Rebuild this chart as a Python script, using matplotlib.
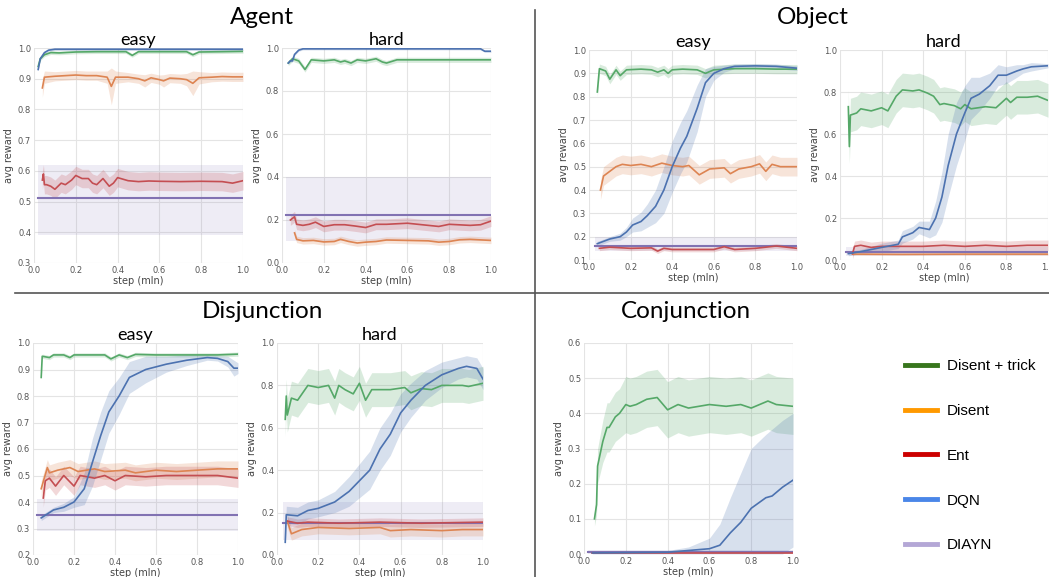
import numpy as np
import matplotlib.pyplot as plt
from matplotlib.lines import Line2D

plt.rcParams['font.family'] = ['DejaVu Sans']

# line colours (seaborn deep) and legend colours
C_GRN = '#55a868'
C_ORG = '#dd8452'
C_RED = '#c44e52'
C_BLU = '#4c72b0'
C_PUR = '#8172b2'
legend_labels = ['Disent + trick', 'Disent', 'Ent', 'DQN', 'DIAYN']
legend_colors = ['#38761d', '#ff9900', '#cc0000', '#4a86e8', '#b4a7d6']

# ---------------- Agent / easy
ae_blu_x = [0.02, 0.03, 0.05, 0.07, 0.1, 0.3, 0.6, 1.0]
ae_blu = [0.93, 0.965, 0.985, 0.993, 0.996, 0.996, 0.996, 0.996]
ae_grn_x = [0.02, 0.03, 0.05, 0.08, 0.12, 0.2, 0.3, 0.44, 0.47, 0.5, 0.6, 0.73, 0.76, 0.79, 0.9, 1.0]
ae_grn = [0.94, 0.965, 0.978, 0.985, 0.984, 0.987, 0.988, 0.988, 0.976, 0.988, 0.988, 0.988, 0.978, 0.987, 0.988, 0.989]
ae_org_x = [0.04, 0.05, 0.1, 0.15, 0.2, 0.25, 0.3, 0.35, 0.37, 0.39, 0.45, 0.5, 0.53, 0.56, 0.6,
            0.62, 0.65, 0.7, 0.73, 0.76, 0.79, 0.85, 0.9, 0.95, 1.0]
ae_org = [0.87, 0.905, 0.908, 0.91, 0.912, 0.91, 0.91, 0.905, 0.875, 0.905, 0.905, 0.9, 0.893, 0.903, 0.897,
          0.893, 0.902, 0.9, 0.897, 0.885, 0.903, 0.905, 0.907, 0.906, 0.906]
ae_org_w = [0.03, 0.02, 0.015, 0.015, 0.015, 0.015, 0.015, 0.02, 0.06, 0.02, 0.015, 0.015, 0.02, 0.015, 0.015,
            0.02, 0.015, 0.015, 0.02, 0.04, 0.02, 0.015, 0.015, 0.015, 0.015]
ae_red_x = [0.04, 0.045, 0.05, 0.06, 0.08, 0.1, 0.13, 0.15, 0.18, 0.2, 0.23, 0.26, 0.28, 0.3, 0.33, 0.36,
            0.38, 0.4, 0.45, 0.5, 0.55, 0.6, 0.7, 0.8, 0.9, 0.95, 1.0]
ae_red = [0.57, 0.59, 0.555, 0.555, 0.55, 0.54, 0.56, 0.555, 0.57, 0.585, 0.575, 0.575, 0.56, 0.555, 0.575, 0.55,
          0.56, 0.578, 0.568, 0.565, 0.567, 0.566, 0.565, 0.566, 0.565, 0.56, 0.568]
ae_red_w = 0.03
ae_pur = 0.512
ae_pur_band = (0.39, 0.62)

# ---------------- Agent / hard
ah_blu_x = [0.03, 0.04, 0.05, 0.06, 0.08, 0.1, 0.3, 0.6, 0.95, 0.97, 1.0]
ah_blu = [0.93, 0.94, 0.94, 0.97, 0.99, 0.996, 0.996, 0.996, 0.996, 0.985, 0.985]
ah_grn_x = [0.03, 0.05, 0.08, 0.11, 0.14, 0.2, 0.25, 0.28, 0.3, 0.33, 0.36, 0.4, 0.45, 0.48, 0.5,
            0.55, 0.6, 0.7, 0.8, 0.9, 1.0]
ah_grn = [0.93, 0.95, 0.94, 0.9, 0.945, 0.94, 0.945, 0.935, 0.94, 0.93, 0.945, 0.94, 0.95, 0.935, 0.93,
          0.945, 0.945, 0.945, 0.945, 0.945, 0.945]
ah_red_x = [0.04, 0.06, 0.07, 0.1, 0.13, 0.16, 0.2, 0.25, 0.3, 0.35, 0.4, 0.45, 0.5, 0.6, 0.7, 0.75,
            0.8, 0.9, 0.95, 1.0]
ah_red = [0.2, 0.215, 0.18, 0.175, 0.18, 0.19, 0.17, 0.178, 0.178, 0.172, 0.165, 0.18, 0.18, 0.185, 0.175, 0.17,
          0.18, 0.175, 0.178, 0.195]
ah_org_x = [0.06, 0.07, 0.1, 0.15, 0.2, 0.25, 0.28, 0.32, 0.36, 0.4, 0.45, 0.5, 0.6, 0.7, 0.75, 0.8,
            0.85, 0.9, 1.0]
ah_org = [0.14, 0.11, 0.103, 0.105, 0.098, 0.1, 0.11, 0.1, 0.093, 0.097, 0.1, 0.107, 0.105, 0.103, 0.097, 0.1,
          0.108, 0.11, 0.105]
ah_pur = 0.225
ah_pur_band = (0.1, 0.4)

# ---------------- Object / easy
oe_grn_x = [0.04, 0.05, 0.08, 0.1, 0.13, 0.15, 0.18, 0.25, 0.3, 0.33, 0.36, 0.38, 0.4, 0.45, 0.52,
            0.56, 0.6, 0.7, 0.8, 0.9, 1.0]
oe_grn = [0.82, 0.92, 0.91, 0.875, 0.915, 0.89, 0.915, 0.918, 0.915, 0.905, 0.915, 0.9, 0.915, 0.918, 0.915,
          0.9, 0.915, 0.92, 0.92, 0.918, 0.918]
oe_org_x = [0.055, 0.07, 0.1, 0.13, 0.16, 0.2, 0.25, 0.3, 0.35, 0.4, 0.45, 0.48, 0.53, 0.58, 0.65, 0.68,
            0.72, 0.78, 0.82, 0.85, 0.88, 0.92, 1.0]
oe_org = [0.4, 0.46, 0.48, 0.5, 0.51, 0.505, 0.51, 0.5, 0.515, 0.505, 0.5, 0.505, 0.465, 0.49, 0.495, 0.47,
          0.49, 0.5, 0.512, 0.48, 0.51, 0.5, 0.5]
oe_blu_x = [0.04, 0.07, 0.1, 0.15, 0.18, 0.21, 0.25, 0.28, 0.32, 0.36, 0.4, 0.44, 0.47, 0.52, 0.56, 0.6,
            0.65, 0.7, 0.8, 0.9, 1.0]
oe_blu = [0.17, 0.18, 0.19, 0.2, 0.22, 0.25, 0.265, 0.29, 0.33, 0.4, 0.5, 0.58, 0.63, 0.75, 0.86, 0.9,
          0.92, 0.93, 0.932, 0.93, 0.922]
oe_blu_w = [0.01, 0.01, 0.01, 0.015, 0.02, 0.03, 0.04, 0.05, 0.07, 0.1, 0.11, 0.11, 0.11, 0.1, 0.06, 0.03,
            0.015, 0.01, 0.01, 0.01, 0.01]
oe_red_x = [0.05, 0.1, 0.2, 0.3, 0.33, 0.36, 0.4, 0.5, 0.6, 0.65, 0.7, 0.8, 0.85, 0.9, 0.95, 1.0]
oe_red = [0.15, 0.155, 0.15, 0.152, 0.138, 0.15, 0.145, 0.145, 0.145, 0.157, 0.145, 0.15, 0.155, 0.16, 0.155, 0.15]
oe_pur = 0.162
oe_pur_band = (0.14, 0.2)

# ---------------- Object / hard
oh_grn_x = [0.04, 0.045, 0.05, 0.08, 0.1, 0.15, 0.2, 0.23, 0.27, 0.3, 0.35, 0.38, 0.42, 0.45, 0.48, 0.5,
            0.55, 0.58, 0.6, 0.63, 0.7, 0.75, 0.8, 0.82, 0.85, 0.9, 0.95, 1.0]
oh_grn = [0.73, 0.54, 0.69, 0.7, 0.72, 0.71, 0.725, 0.71, 0.78, 0.81, 0.805, 0.81, 0.795, 0.78, 0.74, 0.745,
          0.735, 0.72, 0.74, 0.72, 0.73, 0.725, 0.77, 0.75, 0.775, 0.775, 0.78, 0.76]
oh_blu_x = [0.04, 0.1, 0.15, 0.2, 0.28, 0.3, 0.35, 0.38, 0.43, 0.46, 0.49, 0.52, 0.56, 0.6, 0.63, 0.67,
            0.72, 0.76, 0.8, 0.85, 0.88, 0.92, 1.0]
oh_blu = [0.03, 0.04, 0.05, 0.06, 0.075, 0.11, 0.13, 0.155, 0.145, 0.2, 0.3, 0.45, 0.6, 0.7, 0.77, 0.79,
          0.83, 0.88, 0.88, 0.9, 0.91, 0.92, 0.925]
oh_blu_w = [0.01, 0.01, 0.015, 0.02, 0.02, 0.03, 0.03, 0.03, 0.04, 0.08, 0.12, 0.15, 0.15, 0.13, 0.1, 0.08,
            0.06, 0.05, 0.04, 0.03, 0.02, 0.02, 0.01]
oh_red_x = [0.06, 0.07, 0.1, 0.15, 0.2, 0.3, 0.4, 0.5, 0.6, 0.7, 0.8, 0.9, 1.0]
oh_red = [0.03, 0.065, 0.07, 0.06, 0.065, 0.065, 0.065, 0.07, 0.065, 0.07, 0.065, 0.07, 0.07]
oh_org_x = [0.06, 0.3, 0.6, 1.0]
oh_org = [0.028, 0.027, 0.028, 0.028]
oh_pur = 0.04
oh_pur_band = (0.02, 0.06)

# ---------------- Disjunction / easy
de_grn_x = [0.04, 0.045, 0.08, 0.1, 0.15, 0.18, 0.2, 0.25, 0.3, 0.35, 0.38, 0.42, 0.46, 0.5, 0.6, 0.7,
            0.8, 0.9, 1.0]
de_grn = [0.87, 0.95, 0.945, 0.955, 0.955, 0.945, 0.955, 0.955, 0.955, 0.955, 0.94, 0.955, 0.945, 0.957,
          0.955, 0.955, 0.955, 0.955, 0.958]
de_blu_x = [0.04, 0.06, 0.1, 0.15, 0.2, 0.25, 0.29, 0.33, 0.37, 0.42, 0.47, 0.55, 0.65, 0.75, 0.85, 0.9,
            0.95, 0.98, 1.0]
de_blu = [0.34, 0.35, 0.37, 0.38, 0.4, 0.45, 0.55, 0.65, 0.74, 0.8, 0.87, 0.9, 0.92, 0.935, 0.945, 0.942,
          0.93, 0.905, 0.905]
de_blu_w = [0.01, 0.01, 0.01, 0.015, 0.02, 0.06, 0.09, 0.09, 0.08, 0.07, 0.06, 0.05, 0.03, 0.02, 0.01, 0.01,
            0.02, 0.03, 0.02]
de_org_x = [0.04, 0.07, 0.08, 0.12, 0.18, 0.22, 0.3, 0.35, 0.45, 0.5, 0.6, 0.7, 0.8, 0.9, 1.0]
de_org = [0.45, 0.53, 0.51, 0.52, 0.53, 0.515, 0.525, 0.515, 0.52, 0.51, 0.52, 0.515, 0.52, 0.525, 0.525]
de_red_x = [0.05, 0.06, 0.08, 0.11, 0.15, 0.2, 0.23, 0.3, 0.35, 0.4, 0.45, 0.55, 0.65, 0.8, 0.9, 1.0]
de_red = [0.415, 0.48, 0.49, 0.46, 0.5, 0.46, 0.5, 0.49, 0.5, 0.48, 0.5, 0.495, 0.5, 0.5, 0.5, 0.49]
de_pur = 0.352
de_pur_band = (0.29, 0.41)

# ---------------- Disjunction / hard
dh_grn_x = [0.04, 0.045, 0.05, 0.07, 0.1, 0.15, 0.2, 0.25, 0.28, 0.3, 0.33, 0.37, 0.4, 0.43, 0.46, 0.55,
            0.62, 0.65, 0.7, 0.75, 0.8, 0.9, 0.93, 1.0]
dh_grn = [0.64, 0.75, 0.66, 0.74, 0.73, 0.8, 0.79, 0.8, 0.74, 0.8, 0.78, 0.76, 0.81, 0.73, 0.78, 0.78,
          0.79, 0.765, 0.785, 0.78, 0.8, 0.8, 0.795, 0.81]
dh_blu_x = [0.04, 0.045, 0.1, 0.15, 0.2, 0.28, 0.35, 0.4, 0.45, 0.5, 0.55, 0.6, 0.65, 0.72, 0.8, 0.88,
            0.92, 0.97, 1.0]
dh_blu = [0.06, 0.19, 0.185, 0.21, 0.22, 0.25, 0.3, 0.35, 0.4, 0.5, 0.57, 0.67, 0.73, 0.8, 0.85, 0.88,
          0.89, 0.88, 0.83]
dh_blu_w = [0.02, 0.04, 0.04, 0.04, 0.04, 0.05, 0.07, 0.08, 0.09, 0.1, 0.1, 0.09, 0.08, 0.07, 0.06, 0.05,
            0.05, 0.05, 0.05]
dh_red_x = [0.05, 0.1, 0.15, 0.3, 0.5, 0.7, 1.0]
dh_red = [0.16, 0.15, 0.155, 0.15, 0.155, 0.15, 0.155]
dh_org_x = [0.05, 0.07, 0.12, 0.2, 0.35, 0.5, 0.55, 0.65, 0.8, 0.9, 1.0]
dh_org = [0.16, 0.1, 0.12, 0.13, 0.125, 0.13, 0.115, 0.12, 0.115, 0.12, 0.12]
dh_pur = 0.15
dh_pur_band = (0.07, 0.25)

# ---------------- Conjunction
cj_grn_x = [0.05, 0.06, 0.065, 0.09, 0.11, 0.12, 0.15, 0.17, 0.2, 0.22, 0.25, 0.3, 0.35, 0.4, 0.45, 0.5,
            0.6, 0.68, 0.75, 0.8, 0.88, 0.92, 1.0]
cj_grn = [0.1, 0.14, 0.25, 0.32, 0.36, 0.36, 0.39, 0.4, 0.425, 0.42, 0.425, 0.44, 0.445, 0.41, 0.425, 0.415,
          0.425, 0.42, 0.425, 0.415, 0.435, 0.425, 0.42]
cj_grn_w = [0.02, 0.03, 0.05, 0.06, 0.07, 0.07, 0.07, 0.07, 0.08, 0.08, 0.08, 0.08, 0.08, 0.08, 0.08, 0.08,
            0.08, 0.08, 0.08, 0.08, 0.08, 0.08, 0.08]
cj_blu_x = [0.04, 0.4, 0.5, 0.6, 0.65, 0.7, 0.75, 0.8, 0.87, 0.9, 0.95, 1.0]
cj_blu = [0.003, 0.005, 0.01, 0.015, 0.025, 0.06, 0.09, 0.13, 0.16, 0.165, 0.19, 0.21]
cj_blu_w = [0.003, 0.005, 0.01, 0.03, 0.06, 0.1, 0.14, 0.17, 0.18, 0.19, 0.19, 0.19]
cj_red_x = [0.04, 1.0]
cj_red = [0.003, 0.003]
cj_pur = 0.005
cj_pur_band = (0.0, 0.012)


def draw(ax, x, y, w, color, lw=1.2):
    x = np.asarray(x)
    y = np.asarray(y)
    w = np.asarray(w) * np.ones_like(y)
    ax.fill_between(x, np.clip(y - w, 0, None), y + w, color=color, alpha=0.22, lw=0)
    ax.plot(x, y, color=color, lw=lw)


def draw_flat(ax, level, band, x0=0.02):
    ax.fill_between([x0, 1.0], [band[0]] * 2, [band[1]] * 2, color=C_PUR, alpha=0.13, lw=0)
    ax.plot([x0, 1.0], [level, level], color=C_PUR, lw=1.5)


def style(ax, ylo, yhi, ystep, title):
    ax.set_xlim(0, 1.0)
    ax.set_ylim(ylo, yhi)
    ax.set_xticks(np.arange(0, 1.01, 0.2))
    ax.set_yticks(np.arange(ylo, yhi + 1e-6, ystep))
    ax.xaxis.set_major_formatter(plt.FormatStrFormatter('%.1f'))
    ax.yaxis.set_major_formatter(plt.FormatStrFormatter('%.1f'))
    ax.grid(True, color='#e4e4e4', lw=0.8)
    ax.set_axisbelow(True)
    for s in ax.spines.values():
        s.set_visible(False)
    ax.tick_params(length=0, labelsize=6, labelcolor='#555555', pad=2)
    ax.set_xlabel('step (mln)', fontsize=7, color='#444444', labelpad=1)
    ax.set_ylabel('avg reward', fontsize=7, color='#444444', labelpad=3)
    ax.set_title(title, fontsize=13, family=['Lato', 'DejaVu Sans'], pad=2)


W, H = 1049, 577
fig = plt.figure(figsize=(W / 100, H / 100), dpi=100, facecolor='w')


def add_ax(x0, y0, x1, y1):
    # pixel box -> figure fraction
    return fig.add_axes([x0 / W, 1 - y1 / H, (x1 - x0) / W, (y1 - y0) / H])


# Agent easy
ax = add_ax(34, 48, 243, 263)
draw_flat(ax, ae_pur, ae_pur_band)
draw(ax, ae_red_x, ae_red, ae_red_w, C_RED)
draw(ax, ae_org_x, ae_org, ae_org_w, C_ORG)
draw(ax, ae_grn_x, ae_grn, 0.006, C_GRN)
draw(ax, ae_blu_x, ae_blu, 0.004, C_BLU)
style(ax, 0.3, 1.0, 0.1, 'easy')

# Agent hard
ax = add_ax(282, 48, 491, 263)
draw_flat(ax, ah_pur, ah_pur_band)
draw(ax, ah_red_x, ah_red, 0.025, C_RED)
draw(ax, ah_org_x, ah_org, 0.015, C_ORG)
draw(ax, ah_grn_x, ah_grn, 0.012, C_GRN)
draw(ax, ah_blu_x, ah_blu, 0.005, C_BLU)
style(ax, 0.0, 1.0, 0.2, 'hard')

# Object easy
ax = add_ax(589, 50, 797, 260)
draw_flat(ax, oe_pur, oe_pur_band, 0.03)
draw(ax, oe_red_x, oe_red, 0.01, C_RED)
draw(ax, oe_org_x, oe_org, 0.04, C_ORG)
draw(ax, oe_grn_x, oe_grn, 0.02, C_GRN)
draw(ax, oe_blu_x, oe_blu, oe_blu_w, C_BLU)
style(ax, 0.1, 1.0, 0.1, 'easy')

# Object hard
ax = add_ax(840, 50, 1048, 260)
draw_flat(ax, oh_pur, oh_pur_band, 0.03)
draw(ax, oh_org_x, oh_org, 0.005, C_ORG)
draw(ax, oh_red_x, oh_red, 0.025, C_RED)
draw(ax, oh_grn_x, oh_grn, 0.08, C_GRN)
draw(ax, oh_blu_x, oh_blu, oh_blu_w, C_BLU)
style(ax, 0.0, 1.0, 0.2, 'hard')

# Disjunction easy
ax = add_ax(33, 343, 238, 555)
draw_flat(ax, de_pur, de_pur_band)
draw(ax, de_org_x, de_org, 0.03, C_ORG)
draw(ax, de_red_x, de_red, 0.035, C_RED)
draw(ax, de_grn_x, de_grn, 0.008, C_GRN)
draw(ax, de_blu_x, de_blu, de_blu_w, C_BLU)
style(ax, 0.2, 1.0, 0.1, 'easy')

# Disjunction hard
ax = add_ax(277, 343, 483, 555)
draw_flat(ax, dh_pur, dh_pur_band, 0.03)
draw(ax, dh_org_x, dh_org, 0.03, C_ORG)
draw(ax, dh_red_x, dh_red, 0.02, C_RED)
draw(ax, dh_grn_x, dh_grn, 0.08, C_GRN)
draw(ax, dh_blu_x, dh_blu, dh_blu_w, C_BLU)
style(ax, 0.0, 1.0, 0.2, 'hard')

# Conjunction
ax = add_ax(584, 343, 793, 554)
draw_flat(ax, cj_pur, cj_pur_band)
draw(ax, cj_red_x, cj_red, 0.002, C_RED)
draw(ax, cj_grn_x, cj_grn, cj_grn_w, C_GRN)
draw(ax, cj_blu_x, cj_blu, cj_blu_w, C_BLU)
style(ax, 0.0, 0.6, 0.1, '')

# group titles
tfont = ['Lato', 'DejaVu Sans']
fig.text(262 / W, 1 - 17 / H, 'Agent', ha='center', va='center', fontsize=17.5, family=tfont)
fig.text(813 / W, 1 - 17 / H, 'Object', ha='center', va='center', fontsize=17.5, family=tfont)
fig.text(262 / W, 1 - 311 / H, 'Disjunction', ha='center', va='center', fontsize=17.5, family=tfont)
fig.text(686 / W, 1 - 311 / H, 'Conjunction', ha='center', va='center', fontsize=17.5, family=tfont)

# separators
fig.add_artist(Line2D([535 / W, 535 / W], [0, 1 - 10 / H], color='#555555', lw=1.2))
fig.add_artist(Line2D([15 / W, 1], [1 - 293 / H, 1 - 293 / H], color='#555555', lw=1.2))

# legend
handles = [Line2D([], [], color=c, lw=3.5) for c in legend_colors]
fig.legend(handles, legend_labels, loc='upper left', bbox_to_anchor=(905 / W, 1 - 359 / H),
           frameon=False, borderpad=0, borderaxespad=0, handlelength=2.1, handletextpad=0.65,
           labelspacing=2.02, prop={'family': ['Liberation Sans'], 'size': 11})

plt.savefig('out.png', dpi=100)
